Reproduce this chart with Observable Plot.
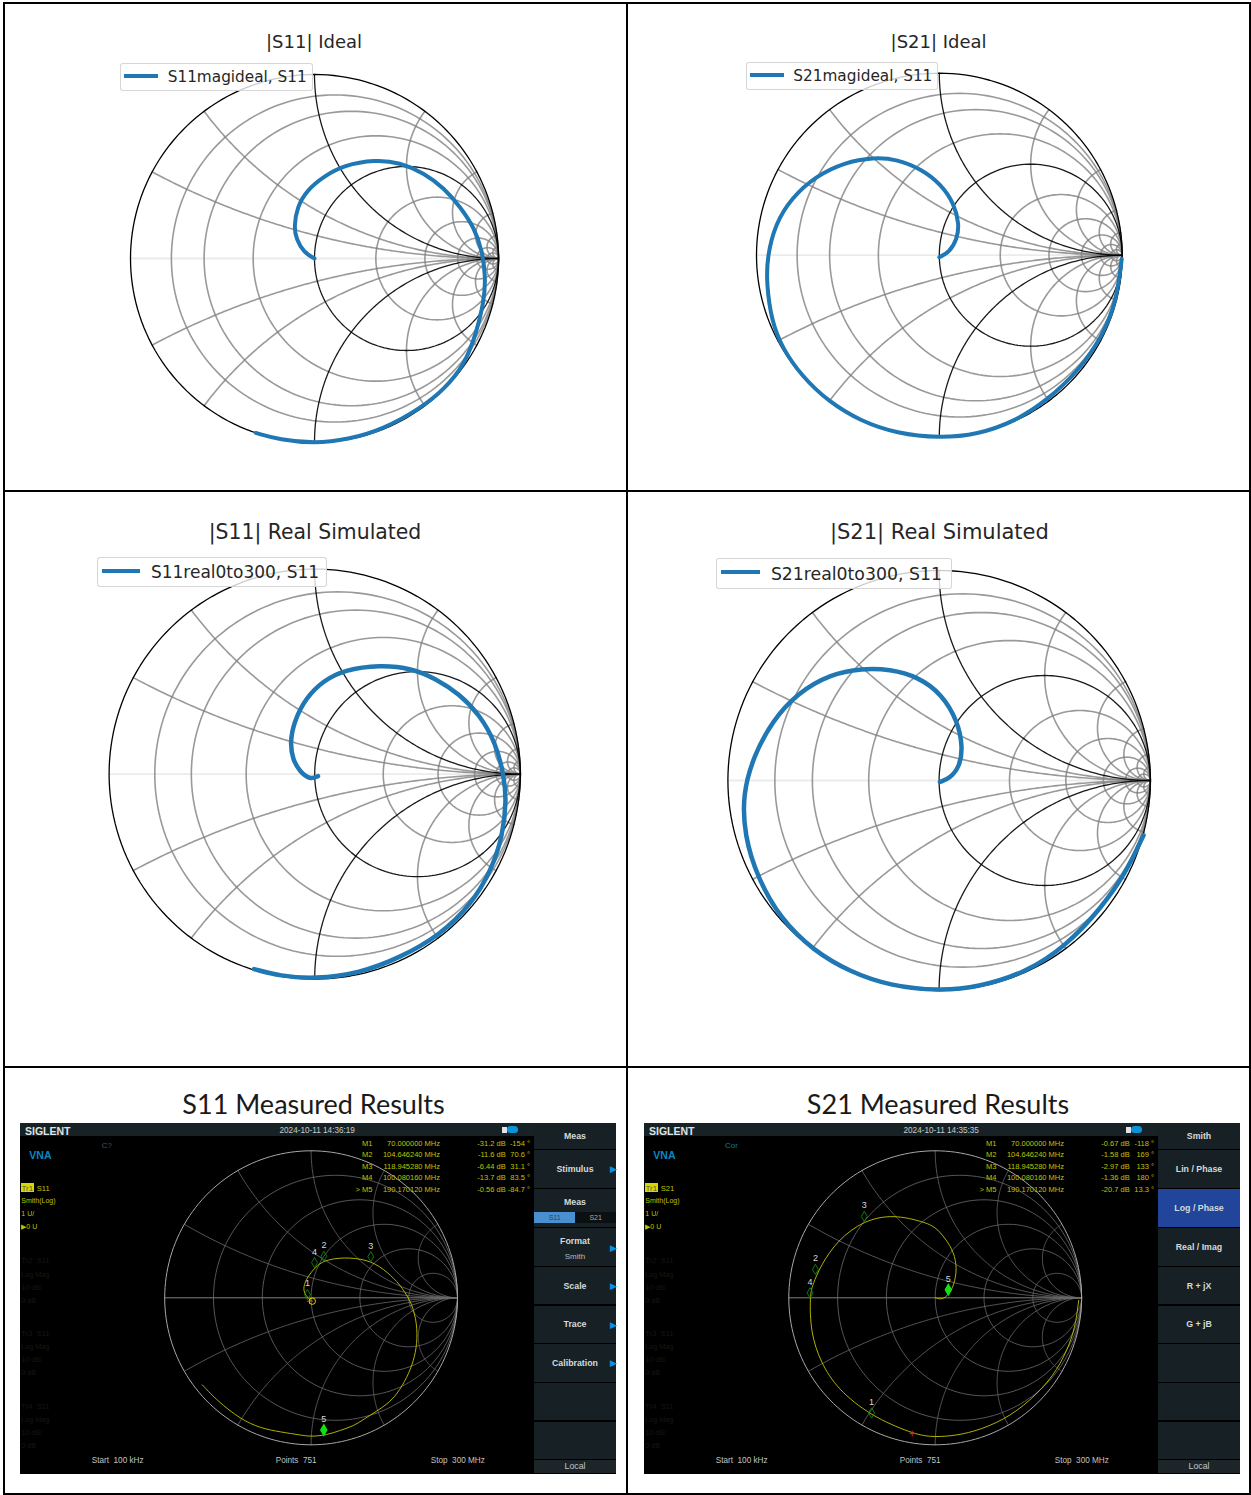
<!DOCTYPE html>
<html>
<head>
<meta charset="utf-8">
<script src="https://cdn.jsdelivr.net/npm/d3@7"></script>
<script src="https://cdn.jsdelivr.net/npm/@observablehq/plot@0.6"></script>
<style>
html,body{margin:0;padding:0;background:#fff}
#page{position:relative;width:1251px;height:1495px;overflow:hidden;background:#fff}
.abs{position:absolute;white-space:pre;line-height:1}
</style>
</head>
<body>
<div id="page"></div>
<script>
// ---------- Smith grid values ----------
const simResistance = [0.125, 0.25, 0.5, 2, 4, 8, 16, 32];
const simReactance = [0.25, 0.5, 2, 4, 8, 16, 32];
const simHeavyResistance = [1];
const simHeavyReactance = [1];
const vnaResistance = [0.2, 0.5, 1, 2, 5];
const vnaReactance = [0.268, 0.577, 1, 1.732, 3.732];

// ---------- Traces, read as reflection coefficient (re, im) ----------
const s11IdealRe = [0,-.059,-.098,-.112,-.095,-.04,.05,.158,.332,.462,.595,.705,.792,.868,.912,.93,.922,.878,.815,.706,.575,.378,.18,0,-.189,-.319];
const s11IdealIm = [0,.033,.105,.168,.28,.372,.445,.507,.537,.522,.465,.382,.28,.168,.042,-.103,-.23,-.41,-.578,-.71,-.815,-.926,-.985,-1.005,-.985,-.948];
const s21IdealRe = [0,.055,.098,.109,.08,.011,-.098,-.23,-.361,-.518,-.675,-.808,-.897,-.942,-.945,-.918,-.86,-.752,-.606,-.43,-.232,0,.21,.41,.587,.766,.895,.97,.998];
const s21IdealIm = [-.011,.016,.09,.172,.285,.388,.473,.527,.538,.51,.435,.315,.172,-.011,-.158,-.359,-.51,-.665,-.805,-.912,-.98,-1.005,-.985,-.915,-.8,-.632,-.44,-.25,-.02];
const s11RealRe = [.016,-.023,-.072,-.107,-.12,-.101,-.043,.045,.142,.317,.472,.588,.705,.802,.88,.922,.932,.915,.86,.763,.608,.414,.219,0,-.169,-.295];
const s11RealIm = [-.01,-.027,.012,.071,.155,.255,.373,.457,.508,.533,.516,.466,.39,.289,.155,-.013,-.131,-.299,-.467,-.635,-.787,-.896,-.971,-1,-.985,-.951];
const s21RealRe = [.004,.051,.098,.112,.089,.013,-.1,-.233,-.365,-.516,-.672,-.79,-.878,-.93,-.922,-.86,-.75,-.595,-.425,-.233,0,.183,.41,.599,.769,.883,.968];
const s21RealIm = [-.007,.01,.067,.158,.281,.412,.494,.53,.534,.506,.415,.283,.117,-.064,-.261,-.463,-.66,-.81,-.91,-.978,-1.002,-.985,-.915,-.79,-.606,-.442,-.261];
const s11MeasRe = [.008,-.009,-.045,-.054,-.027,.03,.087,.223,.383,.496,.592,.633,.69,.724,.724,.701,.656,.588,.519,.451,.36,.291,.201,.11,-.004,-.072,-.209,-.346,-.482,-.641,-.743];
const s11MeasIm = [-.023,-.014,.027,.072,.141,.209,.255,.277,.261,.198,.106,.05,-.041,-.177,-.314,-.428,-.542,-.655,-.724,-.769,-.826,-.872,-.901,-.933,-.945,-.933,-.913,-.887,-.826,-.701,-.592];
const s21MeasRe = [.002,.048,.093,.128,.15,.128,.07,.002,-.077,-.282,-.487,-.668,-.782,-.839,-.856,-.852,-.782,-.668,-.441,-.157,-.032,.104,.263,.468,.65,.81,.901,.957,.98];
const s21MeasIm = [0,-.014,.023,.084,.198,.311,.403,.482,.516,.567,.528,.391,.22,.084,.016,-.235,-.44,-.621,-.803,-.924,-.947,-.942,-.913,-.833,-.701,-.53,-.36,-.201,-.018];

// ---------- Marker table of the instrument ----------
const markerNames = ["M1","M2","M3","M4","> M5"];
const markerFreqs = ["70.000000","104.646240","118.945280","100.080160","190.170120"];
const s11MarkerDb = ["-31.2","-11.6","-6.44","-13.7","-0.56"];
const s11MarkerDeg = ["-154","70.6","31.1","83.5","-84.7"];
const s21MarkerDb = ["-0.67","-1.58","-2.97","-1.36","-20.7"];
const s21MarkerDeg = ["-118","169","133","180","13.3"];

// ---------- Texts ----------
const titles = ["|S11| Ideal","|S21| Ideal","|S11| Real Simulated","|S21| Real Simulated","S11 Measured Results","S21 Measured Results"];
const legends = ["S11magideal, S11","S21magideal, S11","S11real0to300, S11","S21real0to300, S11"];
const s11Menu = ["Meas","Stimulus","Meas","Format","Scale","Trace","Calibration","","","Local"];
const s21Menu = ["Smith","Lin / Phase","Log / Phase","Real / Imag","R + jX","G + jB","","","","Local"];
const s11Arrows = ["Stimulus","Format","Scale","Trace","Calibration"];
const traceInfo = ["Smith(Log)","1 U/","\u25B60 U"];
const dimInfo = ["Log Mag","10 dB/","0 dB"];
const dimTraces = ["Tr2","Tr3","Tr4"];

// ---------- Layout (separate from the values) ----------
const page = document.getElementById("page");
function el(parent, css, text) {
  const d = document.createElement("div");
  d.className = "abs";
  d.style.cssText = css;
  if (text != null) d.textContent = text;
  parent.appendChild(d);
  return d;
}
const zip = (re, im) => re.map((r, i) => ({re: r, im: im[i]}));
const rCircle = (r, n = 180) => d3.range(n + 1).map(i => {
  const a = 2 * Math.PI * i / n, c = r / (1 + r), q = 1 / (1 + r);
  return {re: c + q * Math.cos(a), im: q * Math.sin(a), id: "r" + r};
});
const xArc = (x, n = 160) => d3.range(n + 1).map(i => {
  const r = Math.tan((Math.PI / 2) * (i / n) * 0.999);
  const den = (r + 1) * (r + 1) + x * x;
  return {re: (r * r + x * x - 1) / den, im: 2 * x / den, id: "x" + x};
});
const gridOf = (rs, xs) => [
  ...rs.flatMap(r => rCircle(r)),
  ...xs.flatMap(x => xArc(x)),
  ...xs.flatMap(x => xArc(-x))
];
const markersOf = (dbs, degs) => dbs.map((db, i) => {
  const m = Math.pow(10, +db / 20), a = +degs[i] * Math.PI / 180;
  return {re: m * Math.cos(a), im: m * Math.sin(a), label: String(i + 1), active: i === 4};
});

function frame(box, sx, sy, marks) {
  const svg = Plot.plot({
    width: box.w, height: box.h,
    margin: 0,
    style: {background: "transparent", overflow: "visible"},
    x: {axis: null, domain: [-1, 1], range: [sx.c - sx.r - box.l, sx.c + sx.r - box.l]},
    y: {axis: null, domain: [-1, 1], range: [sy.c + sy.r - box.t, sy.c - sy.r - box.t]},
    marks
  });
  const holder = el(page, `left:${box.l}px;top:${box.t}px;width:${box.w}px;height:${box.h}px;`);
  holder.appendChild(svg);
  svg.style.position = "absolute";
  svg.style.left = "0"; svg.style.top = "0";
  svg.style.maxWidth = "none";
}

// ---------- Simulated panels ----------
const simLayout = [
  {box:{l:5,t:5,w:620,h:484}, cx:314, cy:258, rx:184, ry:184, lw:4, title:{x:314,y:39.5,size:18},
   legend:{l:120,t:63,w:193,h:28,sl:124,sw:34,sy:75.5,tx:167.7,size:15.3}},
  {box:{l:629,t:5,w:620,h:484}, cx:938.8, cy:254.7, rx:182.8, ry:182, lw:4, title:{x:938.6,y:39.5,size:18},
   legend:{l:746,t:62,w:191.5,h:28,sl:750,sw:34,sy:75,tx:793.3,size:15.3}},
  {box:{l:5,t:493,w:620,h:572}, cx:314.2, cy:773.6, rx:205.6, ry:205, lw:4.5, title:{x:315,y:530.5,size:20.4},
   legend:{l:97.4,t:556.6,w:230,h:30.6,sl:101.8,sw:38,sy:570.7,tx:150.9,size:17}},
  {box:{l:629,t:493,w:620,h:572}, cx:938.6, cy:780, rx:211.2, ry:210, lw:4.5, title:{x:939.4,y:530.5,size:21},
   legend:{l:716.2,t:557.6,w:236,h:31.4,sl:720.6,sw:39,sy:571.7,tx:770.9,size:17.3}}
];
const simTraces = [zip(s11IdealRe,s11IdealIm), zip(s21IdealRe,s21IdealIm), zip(s11RealRe,s11RealIm), zip(s21RealRe,s21RealIm)];
const lightGrid = gridOf(simResistance, simReactance);
const heavyGrid = gridOf(simHeavyResistance, simHeavyReactance);
const axisLine = [{re:-1,im:0},{re:1,im:0}];

simLayout.forEach((p, i) => {
  frame(p.box, {c:p.cx, r:p.rx}, {c:p.cy, r:p.ry}, [
    Plot.line(axisLine, {x:"re", y:"im", stroke:"#000", strokeOpacity:.08, strokeWidth:1.8}),
    Plot.line(lightGrid, {x:"re", y:"im", z:"id", stroke:"#808080", strokeOpacity:.8, strokeWidth:1.6}),
    Plot.line(heavyGrid, {x:"re", y:"im", z:"id", stroke:"#000", strokeOpacity:.9, strokeWidth:1.3}),
    Plot.line(rCircle(0), {x:"re", y:"im", stroke:"#000", strokeWidth:1.3}),
    Plot.line(simTraces[i], {x:"re", y:"im", stroke:"#1f77b4", strokeWidth:p.lw, curve:"basis"})
  ]);
  const L = p.legend;
  el(page, `left:${L.l}px;top:${L.t}px;width:${L.w}px;height:${L.h}px;box-sizing:border-box;background:rgba(255,255,255,.8);border:1px solid rgba(204,204,204,.8);border-radius:3px;`);
  el(page, `left:${L.sl}px;top:${L.sy-2}px;width:${L.sw}px;height:4px;background:#1f77b4;`);
  el(page, `left:${L.tx}px;top:${L.t + L.h/2 - L.size*.5 - 1}px;font:${L.size}px 'DejaVu Sans';color:#262626;`, legends[i]);
  el(page, `left:${p.title.x-300}px;width:600px;text-align:center;top:${p.title.y - p.title.size*.5}px;font:${p.title.size}px 'DejaVu Sans';color:#262626;`, titles[i]);
});

// ---------- Instrument screens ----------
const screens = [
  {l:20, title:"S11", titleX:313.5, cx:310.6, trace:zip(s11MeasRe,s11MeasIm), db:s11MarkerDb, deg:s11MarkerDeg, menu:s11Menu,
   time:"2024-10-11 14:36:19", flag:"C?", flagColor:"#4c5256", flagX:81.7, chan:"S11", ring:true, cross:{re:-.01,im:-.023}},
  {l:644, title:"S21", titleX:938, cx:934.7, trace:zip(s21MeasRe,s21MeasIm), db:s21MarkerDb, deg:s21MarkerDeg, menu:s21Menu,
   time:"2024-10-11 14:35:35", flag:"Cor", flagColor:"#0a78ac", flagX:81, chan:"S21", ring:false, cross:{re:-.157,im:-.924}}
];
const scrTop = 1123, scrW = 596, scrH = 351, txt = "'Liberation Sans'";
const vnaGrid = gridOf(vnaResistance, vnaReactance);
const menuHeights = [27,39,39,39,38.5,38.5,38.7,38.8,38.5,14];

screens.forEach((s, si) => {
  el(page, `left:${s.l}px;top:${scrTop}px;width:${scrW}px;height:${scrH}px;background:#000;`);
  el(page, `left:${s.l}px;top:${scrTop}px;width:514px;height:13px;background:#182226;`);
  el(page, `left:${s.titleX-300}px;width:600px;text-align:center;top:1087px;font:27px Lato,'Noto Sans';color:#1a1a1a;`, s.title + " Measured Results");

  const box = {l:s.l, t:scrTop, w:514, h:scrH};
  const mk = markersOf(s.db, s.deg);
  const marks = [
    Plot.line(axisLine, {x:"re", y:"im", stroke:"#a0a0a0", strokeWidth:.8}),
    Plot.line(vnaGrid, {x:"re", y:"im", z:"id", stroke:"#6c6c6c", strokeWidth:.8}),
    Plot.line(rCircle(0), {x:"re", y:"im", stroke:"#a8a8a8", strokeWidth:1}),
    Plot.line(s.trace, {x:"re", y:"im", stroke:"#c4c400", strokeWidth:.9, curve:"basis"}),
    Plot.dot(mk.filter(d => !d.active), {x:"re", y:"im", symbol:"diamond", r:3.1, dy:-5, fill:"none", stroke:"#0b8a12", strokeWidth:.9}),
    Plot.dot(mk.filter(d => d.active), {x:"re", y:"im", symbol:"diamond", r:3.1, dy:-5, fill:"#12e012", stroke:"#12e012"}),
    Plot.text(mk, {x:"re", y:"im", text:"label", dy:-16, fill:"#d8d8d8", fontSize:9, fontFamily:"Liberation Sans"}),
    Plot.dot([s.cross], {x:"re", y:"im", symbol:"plus", r:2, stroke:"#e02020", strokeWidth:1})
  ];
  if (s.ring) marks.push(Plot.dot([s.trace[0]], {x:"re", y:"im", r:3.2, fill:"none", stroke:"#d8d800", strokeWidth:1}));
  frame(box, {c:s.cx, r:146.4}, {c:1297.3, r:147}, marks);

  // header
  el(page, `left:${s.l+5}px;top:${scrTop+1.5}px;font:bold 10.5px ${txt};color:#dfe4e4;`, "SIGLENT");
  el(page, `left:${s.l+259.5}px;top:${scrTop+2.5}px;font:8.2px ${txt};color:#c6cccc;`, s.time);
  el(page, `left:${s.l+481.5}px;top:${scrTop+3.5}px;width:5px;height:6px;background:#dfe4e4;`);
  el(page, `left:${s.l+486.5}px;top:${scrTop+3}px;width:11px;height:7px;border-radius:3.5px;background:#0d93d8;`);
  el(page, `left:${s.l+9.3}px;top:1149px;font:bold 10.5px ${txt};color:#0b86c4;`, "VNA");
  el(page, `left:${s.l+s.flagX}px;top:1141px;font:8px ${txt};color:${s.flagColor};`, s.flag);

  // trace info
  el(page, `left:${s.l+1}px;top:1183.3px;width:12.7px;height:8.7px;background:#d8d800;`);
  el(page, `left:${s.l+1.5}px;top:1183.8px;font:8px ${txt};color:#555;`, "Tr1");
  el(page, `left:${s.l+16.7}px;top:1183.6px;font:7.6px ${txt};color:#c0c000;`, s.chan);
  traceInfo.forEach((t, i) => el(page, `left:${s.l+1.3}px;top:${1197 + 13*i}px;font:7px ${txt};color:#c0c000;`, t));
  dimTraces.forEach((t, g) => {
    const y0 = 1260 + 72.7*g;
    el(page, `left:${s.l+1.3}px;top:${y0-3.7}px;font:7.6px ${txt};color:#161616;`, t + "  S11");
    dimInfo.forEach((d, i) => el(page, `left:${s.l+1.3}px;top:${y0+9.6+13*i}px;font:7.2px ${txt};color:#161616;`, d));
  });

  // marker table
  const tbl = el(page, `left:${s.l+320}px;top:1137.5px;display:grid;grid-template-columns:32.5px 67.5px 65.7px 24.3px;grid-auto-rows:11.67px;font:7.5px/11.67px ${txt};color:#c0c000;text-align:right;`);
  markerNames.forEach((n, i) => {
    [n, markerFreqs[i] + " MHz", s.db[i] + " dB", s.deg[i] + " \u00B0"].forEach(c => {
      const cell = document.createElement("div");
      cell.textContent = c;
      tbl.appendChild(cell);
    });
  });

  // footer
  [["Start  100 kHz",71.7],["Points  751",255.7],["Stop  300 MHz",410.7]].forEach(([t,x]) =>
    el(page, `left:${s.l+x}px;top:1455.5px;font:8.2px ${txt};color:#c2c2c2;`, t));

  // side menu
  const side = el(page, `left:${s.l+514}px;top:${scrTop}px;width:82px;height:${scrH}px;`);
  let y = 0;
  s.menu.forEach((label, i) => {
    const h = menuHeights[i], last = i === s.menu.length - 1;
    const active = label === "Log / Phase";
    const bg = active ? "#20459a" : last ? "#1e2528" : "#172125";
    el(side, `left:0;top:${y}px;width:82px;height:${h-1.2}px;background:${bg};`);
    const isFormat = label === "Format", isMeas2 = si === 0 && i === 2;
    const ty = isFormat ? y + 7.5 : isMeas2 ? y + 7.5 : y + (h-1.2)/2 - 5;
    el(side, `left:0;width:82px;text-align:center;top:${ty}px;font:${last ? "normal" : "bold"} 8.8px ${txt};color:${last ? "#c0c6c6" : "#d4dada"};`, label);
    if (si === 0 && s11Arrows.includes(label))
      el(side, `left:76px;top:${(isFormat ? y+15 : y+(h-1.2)/2-4.5)}px;font:9px 'DejaVu Sans';color:#0a8fe8;`, "\u25B6");
    if (isFormat) el(side, `left:0;width:82px;text-align:center;top:${y+23.5}px;font:8px ${txt};color:#b4baba;`, "Smith");
    if (isMeas2) {
      el(side, `left:0;top:${y+23.2}px;width:41.3px;height:10.8px;background:#4a90d0;`);
      el(side, `left:0;width:41.3px;text-align:center;top:${y+25}px;font:7px ${txt};color:#24405c;`, "S11");
      el(side, `left:41.3px;top:${y+23.2}px;width:40.7px;height:10.8px;background:#0b1012;`);
      el(side, `left:41.3px;width:40.7px;text-align:center;top:${y+25}px;font:7px ${txt};color:#a8aeae;`, "S21");
    }
    y += h;
  });
});

// ---------- Table rules ----------
[[3,2,2,1493],[626,2,2.4,1493],[1249,2,2,1493],[3,2,1248,2],[3,490,1248,2],[3,1066,1248,2],[3,1493,1248,2]].forEach(([l,t,w,h]) =>
  el(page, `left:${l}px;top:${t}px;width:${w}px;height:${h}px;background:#000;`));
</script>
</body>
</html>
